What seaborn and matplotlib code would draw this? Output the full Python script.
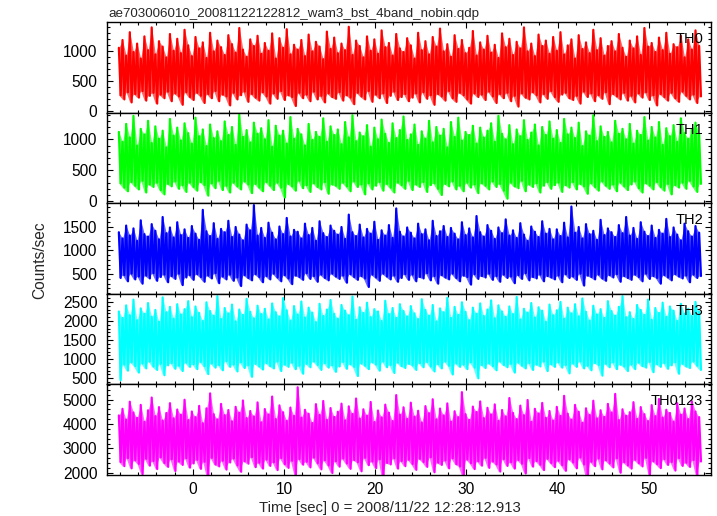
import numpy as np
import pandas as pd
import matplotlib
matplotlib.use("Agg")
import matplotlib.pyplot as plt
from matplotlib.ticker import MultipleLocator
import seaborn as sns

# per-bin upper / lower excursions of each light curve (counts/sec), 0.4 s bins
th0_hi = [1050, 1180, 920, 1310, 980, 1120, 870, 1240, 1010, 1390, 940, 1160, 1070, 890, 1280, 1000, 1200, 960, 1350, 1090,
          910, 1230, 1040, 1140, 880, 1300, 990, 1170, 1060, 930, 1260, 1110, 970, 1380, 1020, 900, 1190, 1080, 1250, 950,
          1130, 1000, 1290, 870, 1210, 1050, 1360, 940, 1100, 1020, 1180, 910, 1270, 990, 1150, 1070, 860, 1320, 1030, 1220,
          960, 1120, 1010, 1400, 930, 1170, 1080, 890, 1240, 1000, 1190, 950, 1340, 1060, 1130, 920, 1280, 1040, 980, 1210,
          1090, 870, 1300, 1010, 1160, 940, 1230, 1070, 1370, 990, 1110, 900, 1260, 1030, 1180, 960, 1050, 1330, 920, 1140,
          1020, 1250, 970, 1100, 880, 1290, 1060, 1200, 930, 1150, 1040, 1390, 990, 1120, 910, 1270, 1080, 1170, 950, 1230,
          1000, 1310, 940, 1090, 1190, 870, 1260, 1030, 1140, 960, 1350, 1010, 1210, 920, 1080, 1160, 990, 1280, 1050, 900,
          1170, 1040, 1240, 930, 1380, 1070, 1130, 980, 1220, 1010, 1300, 950, 1110, 1060, 1250, 890, 1190, 1020, 1340, 1080]
th0_lo = [260, 190, 310, 140, 280, 220, 330, 170, 250, 300, 120, 270, 210, 320, 160, 290, 240, 100, 310, 230,
          180, 300, 250, 130, 280, 210, 330, 160, 270, 240, 90, 300, 190, 260, 320, 150, 280, 220, 170, 310,
          240, 120, 290, 200, 330, 180, 260, 230, 80, 300, 210, 270, 160, 320, 190, 250, 140, 290, 230, 200,
          310, 170, 260, 220, 110, 300, 240, 190, 330, 150, 270, 210, 290, 130, 250, 320, 180, 230, 280, 160,
          220, 290, 140, 310, 200, 260, 100, 280, 240, 170, 330, 210, 150, 300, 260, 190, 120, 290, 230, 270,
          180, 320, 240, 130, 280, 210, 300, 160, 250, 70, 290, 220, 190, 310, 260, 140, 280, 200, 330, 230,
          150, 270, 300, 210, 180, 250, 120, 320, 230, 290, 160, 260, 200, 310, 110, 280, 240, 190, 300, 170,
          250, 140, 290, 220, 310, 180, 260, 90, 280, 230, 170, 300, 210, 150, 320, 250, 190, 270, 130, 240]

th1_hi = [1120, 960, 1250, 1030, 1380, 900, 1170, 1080, 1300, 940, 1210, 1010, 1140, 870, 1330, 1060, 1190, 980, 1260, 1100,
          930, 1350, 1050, 1160, 890, 1240, 1020, 1130, 970, 1290, 1070, 1200, 910, 1400, 1040, 1150, 950, 1270, 1090, 1180,
          1000, 1310, 880, 1220, 1060, 1140, 930, 1360, 1010, 1170, 1080, 900, 1250, 990, 1120, 1040, 1340, 960, 1210, 1070,
          1160, 920, 1280, 1030, 1390, 970, 1110, 1050, 1230, 880, 1190, 1000, 1320, 1090, 940, 1260, 1020, 1150, 1370, 990,
          1080, 1240, 910, 1130, 1010, 1300, 950, 1200, 1060, 1170, 870, 1280, 1040, 1350, 980, 1120, 1070, 1220, 930, 1190,
          1030, 1140, 1260, 960, 1380, 1090, 1000, 1230, 920, 1160, 1050, 1310, 990, 1110, 1240, 900, 1200, 1070, 1290, 1010,
          1150, 940, 1330, 1080, 1190, 1020, 1270, 890, 1130, 1060, 1390, 970, 1210, 1040, 1120, 950, 1300, 1090, 1170, 1000,
          1250, 930, 1140, 1070, 1360, 980, 1200, 1030, 1280, 910, 1180, 1050, 1230, 960, 1340, 1100, 1010, 1160, 1270, 1080]
th1_lo = [290, 220, 160, 310, 250, 190, 330, 140, 270, 230, 300, 180, 110, 280, 240, 320, 200, 260, 150, 300,
          230, 170, 310, 260, 90, 290, 210, 330, 180, 250, 140, 300, 240, 190, 320, 270, 130, 280, 220, 160,
          310, 250, 180, 300, 220, 60, 280, 240, 170, 330, 210, 260, 150, 290, 230, 190, 310, 120, 270, 250,
          200, 300, 240, 160, 320, 230, 270, 110, 290, 190, 250, 310, 170, 280, 220, 140, 300, 260, 200, 330,
          180, 270, 230, 310, 150, 260, 290, 200, 100, 280, 240, 320, 190, 250, 160, 300, 220, 270, 130, 290,
          250, 190, 320, 230, 280, 170, 40, 300, 240, 210, 330, 160, 270, 230, 290, 140, 250, 310, 200, 260,
          300, 150, 260, 220, 310, 190, 280, 240, 120, 290, 230, 170, 320, 250, 200, 270, 160, 300, 240, 180,
          270, 320, 210, 140, 290, 250, 190, 310, 230, 170, 280, 110, 260, 220, 300, 200, 330, 240, 150, 280]

th2_hi = [1380, 1250, 1520, 1310, 1460, 1200, 1630, 1340, 1290, 1550, 1410, 1230, 1700, 1360, 1480, 1270, 1590, 1320, 1440, 1260,
          1510, 1350, 1220, 1850, 1400, 1300, 1570, 1240, 1450, 1380, 1620, 1280, 1490, 1330, 1210, 1540, 1420, 1950, 1310, 1470,
          1260, 1580, 1370, 1230, 1500, 1340, 1680, 1290, 1430, 1390, 1250, 1560, 1320, 1470, 1200, 1610, 1360, 1280, 1520, 1410,
          1330, 1490, 1240, 1750, 1380, 1300, 1540, 1270, 1450, 1350, 1600, 1220, 1420, 1310, 1530, 1260, 1880, 1390, 1290, 1480,
          1370, 1250, 1560, 1340, 1440, 1210, 1620, 1300, 1400, 1510, 1280, 1470, 1350, 1230, 1590, 1320, 1460, 1270, 1720, 1380,
          1290, 1530, 1410, 1240, 1480, 1360, 1650, 1310, 1420, 1260, 1570, 1330, 1200, 1500, 1390, 1280, 1610, 1350, 1450, 1230,
          1440, 1300, 1580, 1270, 1920, 1370, 1490, 1250, 1550, 1340, 1410, 1220, 1640, 1320, 1460, 1380, 1280, 1530, 1360, 1700,
          1310, 1470, 1240, 1590, 1390, 1300, 1520, 1260, 1430, 1350, 1660, 1280, 1480, 1330, 1210, 1560, 1400, 1290, 1510, 1370]
th2_lo = [420, 480, 350, 510, 390, 450, 300, 470, 410, 520, 360, 440, 490, 330, 460, 400, 510, 270, 430, 480,
          380, 500, 440, 340, 470, 410, 520, 310, 450, 390, 490, 360, 430, 250, 480, 420, 370, 500, 440, 330,
          460, 390, 510, 430, 350, 480, 410, 290, 470, 440, 380, 520, 400, 460, 340, 490, 420, 370, 510, 450,
          400, 470, 320, 500, 440, 380, 460, 410, 230, 490, 430, 360, 510, 450, 390, 470, 340, 420, 500, 380,
          490, 350, 440, 410, 520, 370, 460, 300, 480, 430, 390, 510, 420, 350, 470, 440, 280, 500, 400, 460,
          430, 510, 380, 460, 340, 490, 420, 450, 310, 480, 400, 520, 370, 440, 410, 490, 350, 460, 430, 390,
          470, 330, 500, 420, 450, 380, 510, 260, 470, 440, 390, 490, 410, 360, 480, 430, 500, 340, 460, 420,
          380, 490, 440, 350, 510, 400, 460, 420, 300, 480, 430, 370, 500, 450, 410, 470, 330, 490, 420, 460]

th3_hi = [2250, 2080, 2410, 2150, 2560, 2020, 2330, 2190, 2470, 2110, 2290, 1980, 2620, 2230, 2370, 2060, 2440, 2170, 2310, 2520,
          2100, 2380, 2210, 2000, 2490, 2260, 2140, 2650, 2050, 2340, 2200, 2430, 1990, 2300, 2160, 2580, 2240, 2070, 2400, 2180,
          2320, 2040, 2460, 2230, 2120, 2600, 2280, 2010, 2390, 2170, 2510, 2090, 2350, 2220, 1970, 2450, 2130, 2300, 2550, 2190,
          2060, 2420, 2270, 2150, 2640, 2030, 2360, 2210, 2480, 2100, 2310, 2250, 2000, 2530, 2180, 2340, 2080, 2440, 2260, 2120,
          2390, 2200, 2050, 2570, 2290, 2140, 2420, 1990, 2330, 2230, 2610, 2080, 2370, 2160, 2490, 2240, 2020, 2350, 2190, 2460,
          2130, 2300, 2540, 2070, 2410, 2250, 2110, 2380, 2180, 2630, 2040, 2320, 2220, 2470, 2090, 2360, 2270, 1980, 2430, 2150,
          2280, 2500, 2060, 2350, 2200, 2440, 2120, 2590, 2240, 2010, 2400, 2170, 2310, 2080, 2520, 2260, 2140, 2370, 2650, 2100,
          2230, 2050, 2420, 2290, 2160, 2560, 2030, 2340, 2210, 2480, 2110, 2380, 2270, 2000, 2450, 2190, 2320, 2130, 2500, 2240]
th3_lo = [450, 860, 700, 920, 820, 650, 890, 760, 940, 810, 720, 880, 580, 840, 900, 750, 830, 690, 910, 800,
          870, 740, 930, 820, 610, 890, 780, 850, 710, 950, 800, 860, 680, 920, 770, 840, 540, 880, 810, 730,
          900, 820, 760, 940, 690, 860, 800, 910, 740, 830, 620, 880, 790, 940, 850, 720, 900, 780, 840, 670,
          810, 930, 750, 870, 800, 560, 890, 830, 740, 920, 860, 700, 940, 790, 850, 640, 910, 820, 770, 880,
          840, 720, 900, 790, 930, 810, 680, 870, 760, 940, 830, 600, 890, 800, 860, 740, 920, 780, 500, 850,
          770, 890, 820, 710, 940, 850, 790, 880, 650, 910, 830, 760, 900, 720, 860, 810, 940, 690, 870, 800,
          920, 780, 850, 630, 890, 800, 940, 760, 830, 710, 900, 850, 570, 880, 790, 920, 740, 860, 810, 690,
          860, 740, 910, 820, 780, 930, 660, 870, 800, 900, 750, 840, 920, 620, 880, 810, 770, 940, 830, 720]

th0123_hi = [4350, 4620, 4180, 4910, 4470, 4250, 4780, 4090, 4560, 5080, 4320, 4690, 4140, 4450, 4850, 4230, 4590, 4380, 4990, 4160,
             4510, 4280, 4740, 4030, 4640, 5250, 4400, 4190, 4820, 4360, 4570, 4110, 4700, 4460, 4960, 4240, 4530, 4310, 4880, 4070,
             4610, 4390, 5120, 4200, 4760, 4480, 4130, 4670, 4330, 5500, 4260, 4580, 4420, 4040, 4810, 4370, 4940, 4170, 4650, 4290,
             4500, 4830, 4150, 4720, 4410, 5040, 4220, 4600, 4340, 4900, 4080, 4550, 4270, 4790, 4460, 4120, 5180, 4380, 4680, 4210,
             4870, 4300, 4540, 4060, 4730, 4440, 5010, 4190, 4630, 4350, 4840, 4100, 4520, 4280, 5300, 4400, 4170, 4710, 4490, 4920,
             4240, 4660, 4390, 4800, 4130, 4570, 4310, 5060, 4450, 4200, 4750, 4360, 4980, 4090, 4620, 4430, 4860, 4250, 4530, 4140,
             4700, 4330, 5150, 4420, 4180, 4780, 4500, 4050, 4640, 4370, 4950, 4230, 4560, 4290, 4820, 4470, 5230, 4160, 4600, 4340,
             4480, 4890, 4210, 4690, 4400, 4120, 4770, 4320, 5020, 4260, 4580, 4450, 4100, 4850, 4380, 4630, 4200, 4930, 4510, 4280]
th0123_lo = [2450, 2280, 2610, 2190, 2520, 2370, 1950, 2580, 2300, 2490, 2160, 2640, 2410, 2250, 2560, 2080, 2470, 2330, 2600, 2220,
             2390, 2540, 2170, 2460, 1800, 2620, 2350, 2270, 2500, 2140, 2430, 2590, 2310, 2050, 2480, 2380, 2650, 2240, 2420, 2180,
             2550, 2290, 2440, 2120, 2610, 2360, 2210, 2500, 1900, 2570, 2340, 2460, 2230, 2630, 2400, 2150, 2520, 2310, 2000, 2480,
             2260, 2590, 2390, 2170, 2530, 2440, 2070, 2620, 2320, 2470, 2200, 2560, 1750, 2410, 2350, 2600, 2180, 2490, 2280, 2540,
             2370, 2130, 2580, 2450, 2250, 2640, 2030, 2420, 2330, 2510, 2190, 2600, 2360, 2270, 1850, 2550, 2400, 2160, 2480, 2300,
             2620, 2210, 2470, 2350, 2060, 2570, 2290, 2440, 2180, 2530, 2380, 1980, 2610, 2260, 2490, 2340, 2120, 2580, 2410, 2240,
             2500, 2320, 2090, 2560, 2430, 2190, 2630, 2350, 1700, 2460, 2280, 2590, 2150, 2520, 2390, 2230, 2600, 2010, 2440, 2310,
             2180, 2540, 2400, 2270, 2620, 1920, 2480, 2360, 2200, 2570, 2330, 2450, 2100, 2610, 2290, 2420, 2250, 2530, 1880, 2470]

bands = ["TH0", "TH1", "TH2", "TH3", "TH0123"]
colors = ["#ff0000", "#00ff00", "#0000ff", "#00ffff", "#ff00ff"]
t_start = -8.1
t_bin = 0.4

ylims = [(-30, 1480), (-33, 1433), (87, 1990), (340, 2713), (1918, 5617)]
major = [500, 500, 500, 500, 1000]
minor = [100, 100, 100, 100, 200]

his = [th0_hi, th1_hi, th2_hi, th3_hi, th0123_hi]
los = [th0_lo, th1_lo, th2_lo, th3_lo, th0123_lo]

# envelope table and the interleaved light curve (upper at bin start, lower at mid-bin)
env, curve = [], []
for band, hi, lo in zip(bands, his, los):
    t = t_start + t_bin * np.arange(len(hi))
    env.append(pd.DataFrame({"time": t, "hi": hi, "lo": lo, "band": band}))
    tt = np.column_stack([t, t + t_bin / 2]).ravel()
    vv = np.column_stack([hi, lo]).ravel()
    curve.append(pd.DataFrame({"time": tt, "rate": vv, "band": band}))
env = pd.concat(env, ignore_index=True)
curve = pd.concat(curve, ignore_index=True)

sns.set_theme(style="ticks")
plt.rcParams["font.family"] = ["Liberation Sans", "DejaVu Sans"]
plt.rcParams["axes.linewidth"] = 1.0

fig, axes = plt.subplots(5, 1, sharex=True, figsize=(7.17, 5.16), dpi=100)
fig.subplots_adjust(left=107 / 717, right=711 / 717, top=1 - 22 / 516,
                    bottom=1 - 475 / 516, hspace=0)

for i, (ax, band) in enumerate(zip(axes, bands)):
    e = env[env["band"] == band]
    ax.fill_between(e["time"], e["lo"], e["hi"], color=colors[i], alpha=0.6, lw=0)
    sns.lineplot(data=curve[curve["band"] == band], x="time", y="rate", ax=ax,
                 color=colors[i], lw=1.6, estimator=None, sort=False, legend=False)
    ax.set_xlim(-9.4, 56.8)
    ax.set_ylim(*ylims[i])
    ax.yaxis.set_major_locator(MultipleLocator(major[i]))
    ax.yaxis.set_minor_locator(MultipleLocator(minor[i]))
    ax.xaxis.set_major_locator(MultipleLocator(10))
    ax.xaxis.set_minor_locator(MultipleLocator(2))
    ax.tick_params(which="both", direction="in", top=True, right=True,
                   colors="black", labelsize=11.2)
    ax.tick_params(which="major", length=4.5, width=0.8)
    ax.tick_params(which="minor", length=2.5, width=0.8)
    ax.tick_params(axis="x", pad=5)
    ax.tick_params(axis="y", pad=7)
    ax.set_xlabel("")
    ax.set_ylabel("")
    for s in ax.spines.values():
        s.set_color("black")
    ax.text(0.987, 0.89, band, transform=ax.transAxes, ha="right", va="top",
            fontsize=10.5, color="black")

fig.text(108 / 717, 1 - 17 / 516, "ae703006010_20081122122812_wam3_bst_4band_nobin.qdp",
         ha="left", va="baseline", fontsize=9.6)
fig.text(40 / 717, 1 - 260 / 516, "Counts/sec", rotation=90, ha="center", va="center",
         fontsize=11.2)
fig.text(390 / 717, 1 - 508 / 516, "Time [sec] 0 = 2008/11/22 12:28:12.913",
         ha="center", va="center", fontsize=10.7)

fig.savefig("out.png", dpi=100)
